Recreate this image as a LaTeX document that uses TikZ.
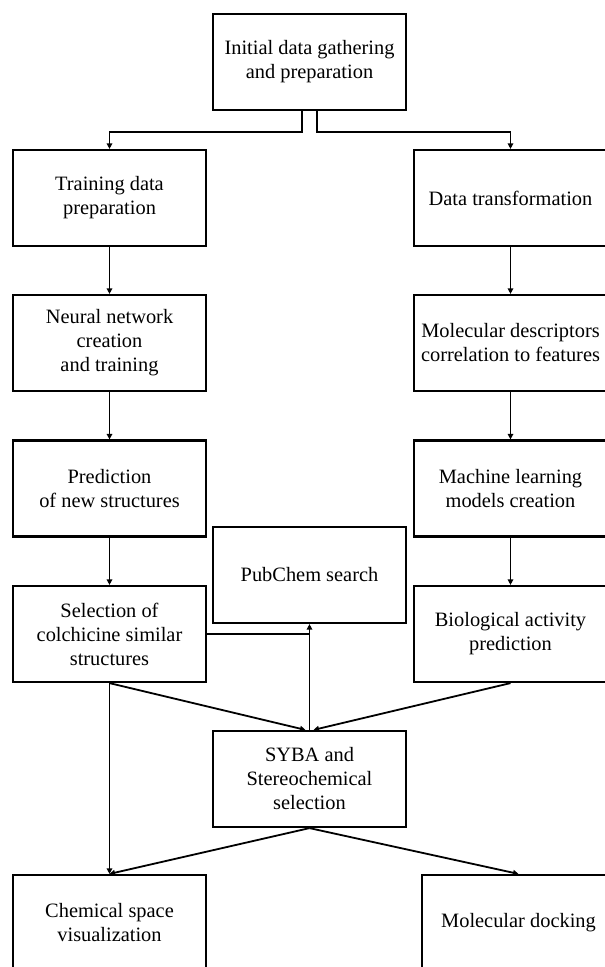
\documentclass[tikz,border=0pt]{standalone}
\usepackage{fontspec}
\setmainfont{Liberation Serif}
\usetikzlibrary{arrows.meta}
\begin{document}
\begin{tikzpicture}[x=1pt,y=-1pt,
  box/.style={draw, line width=2.2pt, rectangle, minimum width=193pt, minimum height=96pt,
    inner sep=0pt, align=center, font=\fontsize{20.4}{24}\selectfont},
  conn/.style={line width=1.8pt},
  arr/.style={conn, -{Triangle[length=5.5pt,width=5.5pt]}}]
\useasboundingbox (0,0) rectangle (605,967);
\clip (0,0) rectangle (605,967);
\fill[white] (0,0) rectangle (605,967);
\node[box] (init) at (309.5,62) {Initial data gathering\\and preparation};
\node[box] (train) at (109.5,198) {Training data\\preparation};
\node[box] (trans) at (510.5,198) {Data transformation};
\node[box] (nn) at (109.5,343) {Neural network\\creation\\and training};
\node[box] (md) at (510.5,343) {Molecular descriptors\\correlation to features};
\node[box] (pred) at (109.5,488.5) {Prediction\\of new structures};
\node[box] (ml) at (510.5,488.5) {Machine learning\\models creation};
\node[box] (pub) at (309.5,575) {PubChem search};
\node[box] (sel) at (109.5,634) {Selection of\\colchicine similar\\structures};
\node[box] (bio) at (510.5,634) {Biological activity\\prediction};
\node[box] (syba) at (309.5,779) {SYBA and\\Stereochemical\\selection};
\node[box] (chem) at (109.5,923) {Chemical space\\visualization};
\node[box] (dock) at (518.5,923) {Molecular docking};
\draw[arr] ([xshift=-7.5pt]init.south) -- ++(0,21) -| (train.north);
\draw[arr] ([xshift=7.5pt]init.south) -- ++(0,21) -| (trans.north);
\draw[arr] (train) -- (nn);
\draw[arr] (nn) -- (pred);
\draw[arr] (pred) -- (sel);
\draw[arr] (trans) -- (md);
\draw[arr] (md) -- (ml);
\draw[arr] (ml) -- (bio);
\draw[conn] (sel.east) -- (sel.east -| pub.south);
\draw[arr] (syba.north) -- (pub.south);
\draw[arr] (sel.south) -- ([xshift=-4pt]syba.north);
\draw[arr] (bio.south) -- ([xshift=4pt]syba.north);
\draw[arr] (sel.south) -- (chem.north);
\draw[arr] (syba.south) -- (chem.north);
\draw[arr] (syba.south) -- (dock.north);
\end{tikzpicture}
\end{document}
